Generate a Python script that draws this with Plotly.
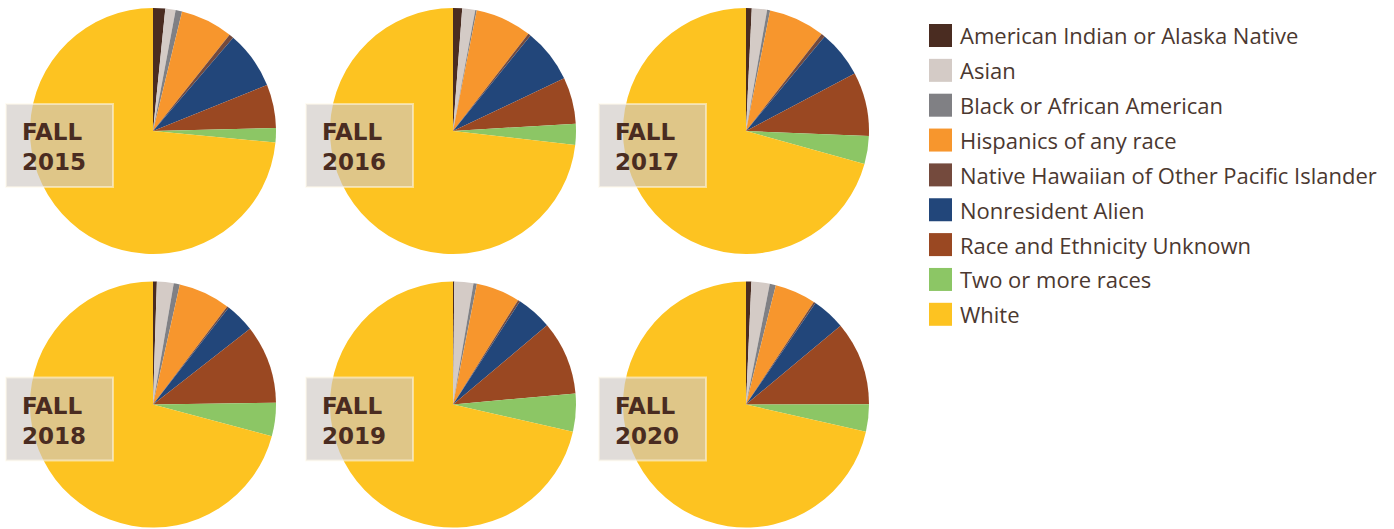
import plotly.graph_objects as go

categories = [
    "American Indian or Alaska Native",
    "Asian",
    "Black or African American",
    "Hispanics of any race",
    "Native Hawaiian of Other Pacific Islander",
    "Nonresident Alien",
    "Race and Ethnicity Unknown",
    "Two or more races",
    "White",
]
colors = ["#4a2c21", "#d4cbc6", "#808084", "#f7962d", "#744a3d",
          "#22467a", "#9a4822", "#8cc665", "#fdc321"]

years = ["2015", "2016", "2017", "2018", "2019", "2020"]
v2015 = [1.6, 1.35, 0.85, 6.9, 0.6, 7.6, 5.7, 1.9, 73.5]
v2016 = [1.2, 1.7, 0.2, 7.4, 0.35, 7.1, 6.1, 2.75, 73.2]
v2017 = [0.75, 2.0, 0.4, 7.4, 0.5, 6.2, 8.4, 3.7, 70.7]
v2018 = [0.5, 2.2, 0.8, 6.8, 0.25, 3.9, 10.3, 4.4, 70.8]
v2019 = [0.17, 2.5, 0.45, 5.75, 0.28, 4.7, 9.7, 5.0, 71.4]
v2020 = [0.7, 2.4, 0.8, 5.4, 0.25, 4.4, 11.0, 3.6, 71.4]
values = [v2015, v2016, v2017, v2018, v2019, v2020]

W, H = 1394, 529
R = 123
centers_x = [153, 453, 746]
centers_y = [131, 404.5]

fig = go.Figure()
shapes = []
annotations = []
for i, (yr, vals) in enumerate(zip(years, values)):
    cx = centers_x[i % 3]
    cy = centers_y[i // 3]
    fig.add_trace(go.Pie(
        labels=categories, values=vals, sort=False, direction="clockwise",
        rotation=0, textinfo="none", hoverinfo="label+percent",
        marker=dict(colors=colors, line=dict(width=0)),
        domain=dict(x=[(cx - R) / W, (cx + R) / W],
                    y=[1 - (cy + R) / H, 1 - (cy - R) / H]),
        showlegend=False,
    ))
    bx0, bx1 = cx - 147, cx - 40
    by0, by1 = cy - 27, cy + 56
    shapes.append(dict(type="rect", xref="paper", yref="paper", layer="above",
                       x0=bx0 / W, x1=bx1 / W, y0=1 - by1 / H, y1=1 - by0 / H,
                       fillcolor="rgba(207,200,196,0.64)",
                       line=dict(color="rgba(255,250,235,0.55)", width=2)))
    annotations.append(dict(
        text="FALL<br>" + yr, xref="paper", yref="paper", showarrow=False,
        x=(bx0 + 14) / W, xanchor="left", align="left",
        y=1 - (cy + 16) / H, yanchor="middle",
        font=dict(family="DejaVu Sans", size=23, color="#4a2c21", weight="bold"),
    ))

# legend
for k, (cat, col) in enumerate(zip(categories, colors)):
    ty = 35.5 + k * 34.85
    shapes.append(dict(type="rect", xref="paper", yref="paper",
                       x0=929 / W, x1=952 / W, y0=1 - (ty + 11.5) / H, y1=1 - (ty - 11.5) / H,
                       fillcolor=col, line=dict(width=0)))
    annotations.append(dict(
        text=cat, xref="paper", yref="paper", showarrow=False,
        x=958 / W, xanchor="left", y=1 - ty / H, yanchor="middle",
        font=dict(family="Open Sans", size=22, color="#4b3830"),
    ))

fig.update_layout(
    width=W, height=H, margin=dict(l=0, r=0, t=0, b=0),
    paper_bgcolor="white", plot_bgcolor="white",
    shapes=shapes, annotations=annotations, showlegend=False,
)
fig.write_html("out.html", config={"displayModeBar": False},
               post_script="document.body.style.margin='0';document.body.style.overflow='hidden';")
